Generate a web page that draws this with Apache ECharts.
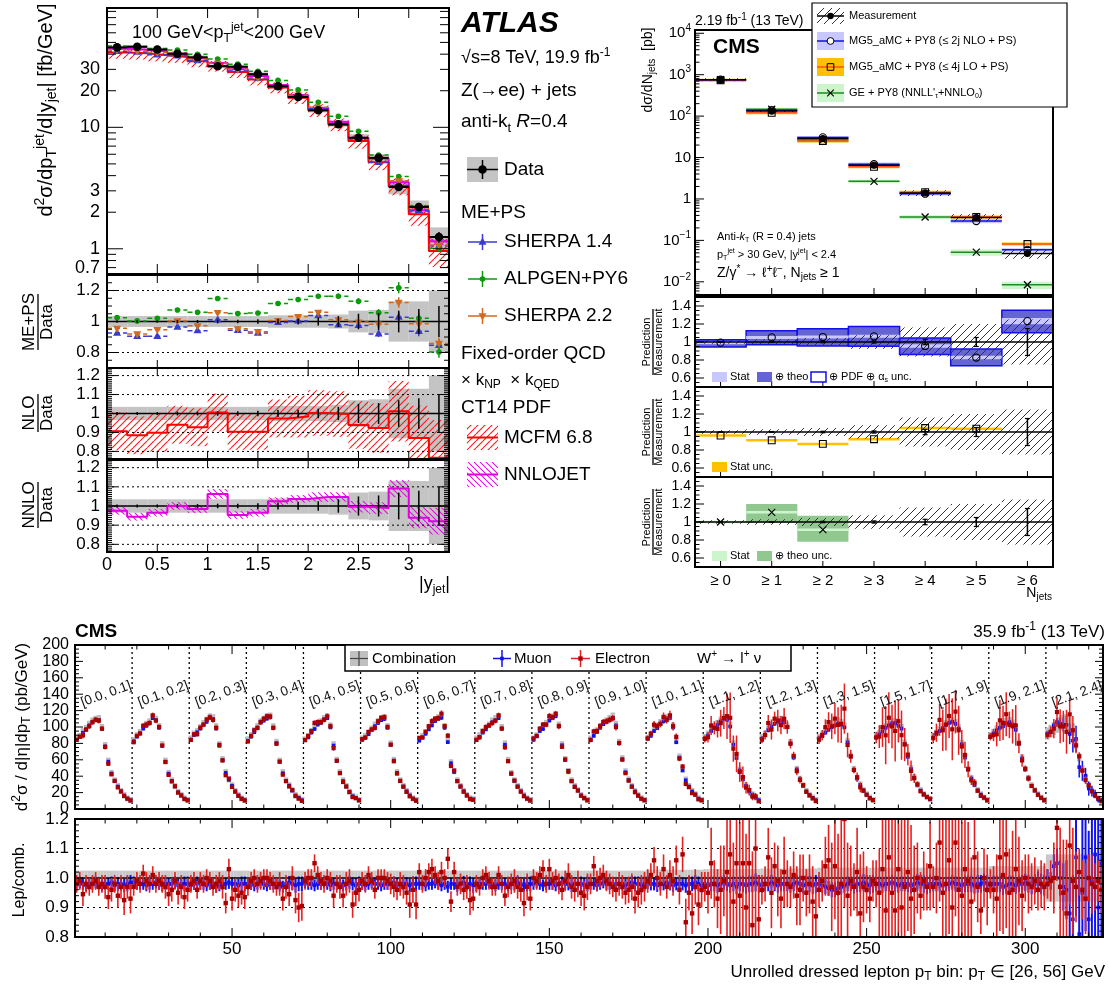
<!DOCTYPE html>
<html>
<head>
<meta charset="utf-8">
<script src="https://cdn.jsdelivr.net/npm/echarts@6.0.0/dist/echarts.min.js"></script>
<style>html,body{margin:0;padding:0;background:#fff;}#chart{width:1109px;height:985px;}</style>
</head>
<body>
<div id="chart"></div>
<script>
/* ============================ DATA ============================ */
// ---- ATLAS Z(->ee)+jets, 100 < pT(jet) < 200 GeV, vs |y_jet| ----
const atlasEdges = [0,0.2,0.4,0.6,0.8,1.0,1.2,1.4,1.6,1.8,2.0,2.2,2.4,2.6,2.8,3.0,3.2,3.4];
const atlasXsec  = [45.5,46,43.7,40.3,37.7,31.8,31.5,27.4,21.8,17.8,13.8,10.6,8.2,5.6,3.23,2.21,1.25];
const atlasSyst  = [0.035,0.035,0.035,0.035,0.035,0.035,0.035,0.035,0.04,0.04,0.04,0.045,0.07,0.075,0.13,0.13,0.2];
const atlasStat  = [0.008,0.008,0.008,0.01,0.01,0.012,0.012,0.015,0.018,0.02,0.025,0.035,0.05,0.055,0.07,0.08,0.1];
const sherpa14Ratio = [0.926,0.905,0.905,0.964,0.941,1.011,0.943,0.926,0.994,1.004,1.038,0.979,0.975,0.92,1.028,0.937,0.846];
const alpgenRatio   = [1.025,1.004,1.021,1.074,1.059,1.148,1.051,1.055,1.116,1.142,1.163,1.163,1.131,1.057,1.218,1.021,0.803];
const sherpa22Ratio = [0.956,0.92,0.947,1.004,0.972,1.057,0.953,0.934,1.006,1.032,1.059,1.011,0.996,0.983,1.123,0.985,0.858];
const mcStatUnc     = [0.006,0.006,0.006,0.006,0.007,0.008,0.008,0.009,0.01,0.011,0.013,0.015,0.018,0.022,0.03,0.035,0.045];
const mcfmRatio = [0.906,0.885,0.899,0.941,0.928,1.005,0.904,0.904,0.974,0.984,1.002,0.997,0.939,0.923,1.012,0.871,0.766];
const mcfmUnc   = [0.1,0.1,0.1,0.1,0.1,0.1,0.095,0.095,0.1,0.11,0.12,0.12,0.125,0.13,0.16,0.17,0.2];
const nnlojetRatio = [0.975,0.944,0.965,1.0,0.984,1.063,0.953,0.965,1.025,1.037,1.047,1.047,0.996,0.989,1.091,0.939,0.921];
const nnlojetUnc   = [0.02,0.02,0.02,0.02,0.02,0.025,0.02,0.02,0.02,0.02,0.025,0.025,0.03,0.03,0.045,0.055,0.07];
const atlasMainLabels = [0.7,1,2,3,10,20,30];
const atlasMainMajor  = [1,10];
const atlasMainMinor  = [0.7,0.8,0.9,2,3,4,5,6,7,8,9,20,30,40,50,60,70,80,90];
const atlasXLabels    = [0,0.5,1,1.5,2,2.5,3];
const atlasMepsLabels = [0.8,1,1.2];
const atlasFoLabels   = [0.8,0.9,1,1.1,1.2];

// ---- CMS 13 TeV Z+jets, inclusive jet multiplicity ----
const njetLabels = ['≥ 0','≥ 1','≥ 2','≥ 3','≥ 4','≥ 5','≥ 6'];
const njetPos    = [0,1,2,3,4,5,6];
const measXsec   = [760,132,29,6.5,1.4,0.355,0.048];
const measSyst   = [0.02,0.03,0.045,0.075,0.16,0.2,0.25];
const measStat   = [0.003,0.005,0.008,0.012,0.03,0.05,0.15];
const nloRatio   = [0.993,1.051,1.055,1.063,0.956,0.827,1.232];
const nloTheoLo  = [0.945,0.97,0.956,0.952,0.86,0.735,1.103];
const nloTheoHi  = [1.026,1.125,1.147,1.173,1.044,0.923,1.353];
const nloStat    = [0.008,0.01,0.012,0.015,0.02,0.02,0.035];
const loRatio    = [0.96,0.908,0.868,0.92,1.044,1.037,1.7];
const loStat     = [0.004,0.005,0.006,0.008,0.01,0.012,0.03];
const geRatio    = [1.0,1.107,0.915,0.41,0.262,0.146,0.177];
const geTheoLo   = [0.99,0.99,0.78,0.37,0.23,0.12,0.14];
const geTheoHi   = [1.01,1.2,1.07,0.45,0.29,0.17,0.21];
const geStat     = [0.005,0.01,0.01,0.01,0.01,0.01,0.01];
const cmsLogLabels = [0.01,0.1,1,10,100,1000,10000];
const cmsRatioLabels = [0.6,0.8,1,1.2,1.4];

// ---- CMS 35.9 fb-1 W+ -> l+ nu, unrolled (|eta|, pT) bins ----
const etaLabels = ['[0.0, 0.1]','[0.1, 0.2]','[0.2, 0.3]','[0.3, 0.4]','[0.4, 0.5]','[0.5, 0.6]','[0.6, 0.7]','[0.7, 0.8]','[0.8, 0.9]','[0.9, 1.0]','[1.0, 1.1]','[1.1, 1.2]','[1.2, 1.3]','[1.3, 1.5]','[1.5, 1.7]','[1.7, 1.9]','[1.9, 2.1]','[2.1, 2.4]'];
const combRows = [
 [86,89,95,99,104,108,110,111,100,78,59,44,35,28,22,17,13,11],
 [84,90,94,100,104,107,113,110,101,79,59,44,35,28,21,17,13,11],
 [86,92,95,100,105,109,113,112,101,79,61,45,36,29,22,17,13,11],
 [85,90,96,101,107,110,113,114,101,82,59,45,35,29,23,17,14,11],
 [85,89,95,100,105,107,111,113,102,79,60,45,35,28,21,16,14,11],
 [86,89,93,98,103,107,111,112,101,80,60,45,35,28,22,17,13,11],
 [85,89,94,99,104,109,112,114,101,84,57,46,35,28,22,17,13,12],
 [86,90,95,99,103,108,111,113,100,80,60,44,35,28,22,17,13,11],
 [86,90,97,100,105,110,113,116,103,79,61,46,35,28,23,17,14,11],
 [86,91,96,101,105,108,111,114,104,82,62,46,36,28,22,17,13,11],
 [87,91,97,101,106,109,112,113,102,83,64,48,36,28,22,18,13,11],
 [88,92,97,101,105,109,112,111,103,80,64,48,37,29,22,18,14,11],
 [88,92,98,102,106,109,110,108,102,82,64,49,37,29,22,17,14,11],
 [88,91,96,100,104,106,108,106,102,83,65,49,38,30,23,18,14,11],
 [89,93,97,101,104,106,107,104,100,81,65,50,39,30,23,18,15,12],
 [89,93,97,101,105,107,108,106,100,81,64,49,38,30,23,18,14,11],
 [90,94,98,101,104,107,108,105,99,81,63,49,38,29,23,18,14,11],
 [92,95,98,101,104,106,107,104,97,80,63,49,38,29,22,17,13,10]
];
const combUncEta = [0.025,0.025,0.025,0.025,0.025,0.025,0.025,0.025,0.025,0.025,0.028,0.03,0.032,0.035,0.035,0.035,0.04,0.08];
const muRatioRows = [
 [0.98,0.985,0.98,0.975,0.98,0.98,0.985,0.98,0.975,0.98,0.98,0.985,0.975,0.98,0.98,0.975,0.98,0.985],
 [0.985,0.98,0.98,0.98,0.975,0.98,0.98,0.985,0.98,0.975,0.98,0.98,0.98,0.985,0.975,0.98,0.98,0.98],
 [0.975,0.98,0.985,0.98,0.98,0.975,0.98,0.98,0.97,0.975,0.98,0.98,0.985,0.98,0.98,0.975,0.98,0.98],
 [0.98,0.98,0.975,0.98,0.985,0.98,0.975,0.98,0.98,0.98,0.975,0.97,0.98,0.985,0.98,0.975,0.98,0.98],
 [0.985,0.98,0.98,0.975,0.98,0.98,0.985,0.98,0.975,0.98,0.98,0.98,0.975,0.98,0.985,0.98,0.975,0.98],
 [0.98,0.975,0.98,0.985,0.98,0.98,0.975,0.98,0.98,0.98,0.985,0.98,0.975,0.98,0.98,0.975,0.98,0.98],
 [0.98,0.98,0.975,0.98,0.98,0.985,0.98,0.975,0.98,0.97,0.98,0.98,0.975,0.98,0.985,0.98,0.98,0.975],
 [0.975,0.98,0.98,0.98,0.985,0.98,0.975,0.98,0.98,0.98,0.975,0.98,0.98,0.985,0.98,0.975,0.98,0.98],
 [0.98,0.985,0.98,0.975,0.98,0.98,0.98,0.975,0.98,0.985,0.98,0.98,0.975,0.98,0.98,0.98,0.975,0.98],
 [0.98,0.98,0.975,0.98,0.985,0.98,0.98,0.975,0.98,0.98,0.98,0.975,0.98,0.985,0.98,0.98,0.975,0.98],
 [0.985,0.98,0.98,0.975,0.98,0.98,0.985,0.98,0.975,0.98,0.98,0.98,0.975,0.98,0.98,0.985,0.98,0.975],
 [0.98,0.975,0.98,0.98,0.975,0.98,0.985,0.98,0.975,0.98,0.97,0.98,0.98,0.975,0.98,0.98,0.985,0.98],
 [0.975,0.98,0.98,0.985,0.98,0.975,0.98,0.98,0.98,0.975,0.98,0.985,0.98,0.975,0.98,0.98,0.975,0.98],
 [0.98,0.975,0.97,0.965,0.96,0.96,0.965,0.97,0.975,0.98,0.98,0.975,0.98,0.98,0.985,0.98,0.975,0.98],
 [0.98,0.98,0.975,0.98,0.98,0.985,0.98,0.975,0.98,0.98,0.98,0.975,0.98,0.985,0.98,0.98,0.975,0.98],
 [0.98,0.98,0.98,0.975,0.98,0.98,0.985,0.98,0.98,0.975,0.98,0.98,0.98,0.975,0.98,0.98,0.985,0.98],
 [0.975,0.98,0.98,0.98,0.97,0.975,0.98,0.98,0.975,0.98,0.98,0.985,0.98,0.975,0.98,0.99,0.98,0.975],
 [1.0,0.99,1.04,1.05,1.0,0.97,0.96,0.88,0.86,1.07,0.81,0.95,1.07,0.86,0.99,1.08,0.9,1.05]
];
const muErrRows = [
 [0.02,0.02,0.02,0.02,0.02,0.02,0.02,0.02,0.02,0.02,0.02,0.02,0.02,0.022,0.022,0.022,0.025,0.025],
 [0.02,0.02,0.02,0.02,0.02,0.02,0.02,0.02,0.02,0.02,0.02,0.02,0.02,0.022,0.022,0.022,0.025,0.025],
 [0.02,0.02,0.02,0.02,0.02,0.02,0.02,0.02,0.02,0.02,0.02,0.02,0.022,0.022,0.022,0.022,0.025,0.025],
 [0.02,0.02,0.02,0.02,0.02,0.02,0.02,0.02,0.02,0.02,0.02,0.02,0.022,0.022,0.022,0.025,0.025,0.025],
 [0.02,0.02,0.02,0.02,0.02,0.02,0.02,0.02,0.02,0.02,0.02,0.02,0.02,0.022,0.022,0.022,0.025,0.025],
 [0.02,0.02,0.02,0.02,0.02,0.02,0.02,0.02,0.02,0.02,0.02,0.02,0.022,0.022,0.022,0.022,0.025,0.025],
 [0.02,0.02,0.02,0.02,0.02,0.02,0.02,0.02,0.02,0.02,0.02,0.02,0.022,0.022,0.022,0.022,0.025,0.025],
 [0.02,0.02,0.02,0.02,0.02,0.02,0.02,0.02,0.02,0.02,0.02,0.02,0.022,0.022,0.022,0.022,0.025,0.025],
 [0.02,0.02,0.02,0.02,0.02,0.02,0.02,0.02,0.02,0.02,0.02,0.022,0.022,0.022,0.022,0.025,0.025,0.025],
 [0.02,0.02,0.02,0.02,0.02,0.02,0.02,0.02,0.02,0.02,0.022,0.022,0.022,0.022,0.025,0.025,0.025,0.025],
 [0.022,0.022,0.022,0.022,0.022,0.022,0.022,0.022,0.022,0.022,0.022,0.022,0.025,0.025,0.025,0.025,0.025,0.025],
 [0.025,0.025,0.025,0.025,0.025,0.025,0.025,0.025,0.025,0.025,0.025,0.025,0.028,0.028,0.028,0.028,0.03,0.03],
 [0.025,0.025,0.025,0.025,0.025,0.025,0.025,0.025,0.025,0.025,0.025,0.025,0.028,0.028,0.028,0.028,0.03,0.03],
 [0.025,0.025,0.025,0.025,0.025,0.025,0.025,0.025,0.025,0.025,0.025,0.028,0.028,0.028,0.028,0.03,0.03,0.03],
 [0.025,0.025,0.025,0.025,0.025,0.025,0.025,0.025,0.025,0.025,0.028,0.028,0.028,0.028,0.03,0.03,0.03,0.03],
 [0.025,0.025,0.025,0.025,0.025,0.025,0.025,0.025,0.025,0.025,0.028,0.028,0.028,0.028,0.03,0.03,0.03,0.03],
 [0.028,0.028,0.028,0.028,0.028,0.028,0.028,0.028,0.028,0.028,0.03,0.03,0.03,0.03,0.032,0.032,0.035,0.035],
 [0.03,0.03,0.04,0.05,0.06,0.08,0.1,0.12,0.15,0.2,0.2,0.25,0.25,0.3,0.3,0.3,0.3,0.3]
];
const elRatioRows = [
 [0.98,0.99,0.945,0.98,0.97,0.98,0.99,0.97,0.98,0.97,0.935,0.96,0.98,0.94,0.97,0.925,0.97,0.93],
 [0.97,0.99,0.98,1.015,0.99,0.98,1.01,0.98,0.99,0.98,0.97,0.945,0.96,0.99,0.95,0.97,0.935,0.96],
 [0.98,0.99,0.96,0.99,0.98,1.0,0.99,0.97,0.98,0.99,0.97,0.915,1.03,0.93,0.96,0.94,0.95,0.935],
 [0.97,0.99,1.0,0.98,0.99,1.0,1.0,0.99,0.98,0.97,0.98,0.93,0.97,0.945,1.0,0.925,0.9,0.905],
 [0.99,1.0,1.0,1.05,1.01,0.99,0.98,1.0,0.99,0.94,0.98,0.97,0.94,0.98,0.99,0.91,0.95,0.96],
 [0.99,0.98,1.01,0.99,0.96,1.0,1.0,1.0,0.99,0.98,0.97,0.96,0.98,0.97,0.95,0.91,0.96,0.91],
 [1.02,0.98,1.0,1.02,1.03,1.01,0.99,1.02,1.0,1.065,0.92,1.02,0.97,0.98,0.96,0.97,0.925,0.93],
 [0.98,0.97,1.0,1.01,0.99,0.97,0.97,1.01,0.98,0.94,0.97,0.98,0.99,0.97,0.96,0.915,0.97,0.93],
 [1.0,0.99,1.01,1.03,0.98,1.03,0.99,1.0,0.98,0.96,0.99,1.01,0.97,0.96,0.98,0.95,0.94,0.97],
 [0.98,1.04,0.99,1.0,1.01,0.99,0.98,0.97,0.96,0.98,0.97,0.95,0.96,0.97,0.93,0.95,0.96,0.97],
 [0.99,1.01,1.06,1.0,0.98,1.03,0.97,1.01,0.99,1.06,0.96,1.08,0.85,0.95,0.88,0.97,0.91,0.96],
 [0.97,0.95,1.05,0.98,0.93,0.96,0.99,1.02,1.08,0.92,1.05,0.94,1.05,0.9,1.05,0.84,1.1,0.86],
 [0.96,0.98,1.07,0.95,1.04,0.99,0.93,1.02,0.98,0.97,1.01,0.94,0.96,1.0,0.95,0.98,0.92,0.87],
 [0.96,0.99,1.04,1.06,0.97,1.04,0.95,0.98,1.2,0.94,0.99,0.97,1.02,0.88,0.97,0.96,0.93,0.99],
 [0.98,0.95,1.03,0.89,1.07,0.95,0.89,1.03,0.9,0.97,1.02,0.93,0.96,1.0,0.94,0.99,0.97,1.04],
 [0.97,1.0,1.12,0.95,0.98,1.06,0.9,1.12,0.96,0.94,1.03,0.99,0.92,1.07,0.97,0.89,1.0,0.96],
 [0.98,0.96,0.93,1.07,1.01,1.08,0.95,0.96,1.03,0.99,0.94,1.0,0.98,0.97,0.99,0.96,0.98,0.97],
 [0.98,0.99,1.0,1.17,0.97,0.95,0.88,1.11,0.99,0.97,1.02,0.96,0.93,1.0,0.98,0.97,0.99,0.96]
];
const elErrRows = [
 [0.03,0.03,0.04,0.03,0.03,0.03,0.03,0.03,0.03,0.04,0.04,0.04,0.03,0.04,0.04,0.05,0.04,0.05],
 [0.03,0.03,0.03,0.03,0.03,0.03,0.03,0.03,0.03,0.03,0.04,0.04,0.04,0.03,0.04,0.04,0.04,0.04],
 [0.03,0.03,0.03,0.03,0.03,0.03,0.03,0.03,0.03,0.03,0.04,0.035,0.035,0.04,0.04,0.04,0.04,0.04],
 [0.03,0.03,0.03,0.03,0.03,0.03,0.03,0.03,0.03,0.03,0.04,0.04,0.04,0.04,0.04,0.045,0.05,0.05],
 [0.03,0.03,0.03,0.03,0.03,0.03,0.03,0.03,0.03,0.04,0.03,0.04,0.04,0.04,0.04,0.045,0.045,0.04],
 [0.03,0.03,0.03,0.03,0.03,0.03,0.03,0.03,0.03,0.035,0.035,0.035,0.04,0.04,0.04,0.045,0.045,0.05],
 [0.03,0.03,0.03,0.03,0.035,0.03,0.03,0.035,0.03,0.035,0.035,0.035,0.03,0.035,0.035,0.04,0.05,0.04],
 [0.03,0.03,0.03,0.03,0.03,0.03,0.03,0.03,0.03,0.035,0.035,0.035,0.04,0.04,0.04,0.045,0.045,0.04],
 [0.03,0.03,0.03,0.03,0.03,0.035,0.03,0.03,0.035,0.035,0.035,0.04,0.04,0.04,0.045,0.045,0.05,0.045],
 [0.035,0.035,0.035,0.035,0.035,0.035,0.035,0.035,0.04,0.04,0.04,0.04,0.045,0.045,0.05,0.05,0.05,0.05],
 [0.04,0.04,0.045,0.04,0.04,0.05,0.04,0.05,0.05,0.05,0.05,0.06,0.08,0.06,0.07,0.06,0.07,0.06],
 [0.05,0.07,0.12,0.08,0.1,0.15,0.12,0.25,0.3,0.2,0.35,0.25,0.35,0.25,0.3,0.25,0.3,0.15],
 [0.05,0.06,0.1,0.12,0.08,0.12,0.1,0.12,0.08,0.07,0.08,0.1,0.12,0.08,0.08,0.1,0.12,0.12],
 [0.06,0.07,0.1,0.12,0.15,0.18,0.2,0.22,0.3,0.18,0.12,0.08,0.15,0.2,0.12,0.08,0.08,0.07],
 [0.08,0.15,0.25,0.35,0.3,0.25,0.35,0.25,0.3,0.25,0.2,0.25,0.15,0.12,0.08,0.1,0.08,0.15],
 [0.07,0.12,0.2,0.25,0.3,0.25,0.35,0.25,0.3,0.25,0.25,0.2,0.15,0.15,0.12,0.08,0.1,0.12],
 [0.05,0.08,0.15,0.25,0.2,0.25,0.15,0.2,0.25,0.15,0.12,0.08,0.1,0.08,0.08,0.07,0.08,0.08],
 [0.05,0.07,0.12,0.18,0.2,0.18,0.25,0.2,0.18,0.12,0.08,0.1,0.12,0.08,0.1,0.08,0.07,0.08]
];
const unrolledXLabels = [50,100,150,200,250,300];

/* ============================ HELPERS ============================ */
const FONT = '"Liberation Sans", Arial, Helvetica, sans-serif';
const grids = [], xAxes = [], yAxes = [], series = [], graphic = [];

function axisOpt(gi, a, pos) {
  const o = {gridIndex: gi, type: a.type || 'value', position: pos, min: a.min, max: a.max,
    axisLine: {show: false}, axisTick: {show: false}, minorTick: {show: false},
    splitLine: {show: false}, splitArea: {show: false}, z: 30};
  if (a.type === 'log') o.logBase = 10;
  if (a.interval) o.interval = a.interval;
  o.axisLabel = a.label ? Object.assign({show: true, color: '#000', fontFamily: FONT, fontSize: 14,
    margin: 6, hideOverlap: false, showMinLabel: true, showMaxLabel: true}, a.label) : {show: false};
  return o;
}
function addPanel(l, t, w, h, xa, ya) {
  const gi = grids.length;
  grids.push({left: l, top: t, width: w, height: h, show: false, containLabel: false, outerBoundsMode: 'none'});
  xAxes.push(axisOpt(gi, xa, 'bottom'));
  yAxes.push(axisOpt(gi, ya, 'left'));
  return gi;
}
function addFrame(gi, o) {
  series.push({type: 'custom', xAxisIndex: gi, yAxisIndex: gi, silent: true, z: 40, clip: false,
    data: [[o.xRef, o.yRef]],
    renderItem(params, api) {
      const cs = params.coordSys, ch = [];
      const L = (x1, y1, x2, y2) => ch.push({type: 'line', shape: {x1, y1, x2, y2}, style: {stroke: '#000', lineWidth: 1}});
      const X0 = cs.x, X1 = cs.x + cs.width, Y0 = cs.y, Y1 = cs.y + cs.height;
      (o.y || []).forEach(([vals, len]) => vals.forEach(v => {
        const py = api.coord([o.xRef, v])[1];
        if (!(py >= Y0 - 0.5 && py <= Y1 + 0.5)) return;
        if (o.left !== false) L(X0, py, X0 + len, py);
        if (o.right) L(X1, py, X1 - len, py);
      }));
      (o.x || []).forEach(([vals, len]) => vals.forEach(v => {
        const px = api.coord([v, o.yRef])[0];
        if (!(px >= X0 - 0.5 && px <= X1 + 0.5)) return;
        if (o.bottom !== false) L(px, Y1, px, Y1 - len);
        if (o.top) L(px, Y0, px, Y0 + len);
      }));
      ch.push({type: 'rect', shape: {x: X0, y: Y0, width: cs.width, height: cs.height},
        style: {fill: 'none', stroke: '#000', lineWidth: o.bw || 2}});
      return {type: 'group', children: ch};
    }});
}
function addBands(gi, items, st, z) {
  series.push({type: 'custom', xAxisIndex: gi, yAxisIndex: gi, silent: true, z: z, clip: true, data: items,
    renderItem(params, api) {
      const a = api.coord([api.value(0), api.value(2)]), b = api.coord([api.value(1), api.value(3)]);
      let y = Math.min(a[1], b[1]), h = Math.abs(b[1] - a[1]);
      if (st.minH && h < st.minH) { y = (a[1] + b[1]) / 2 - st.minH / 2; h = st.minH; }
      return {type: 'rect', shape: {x: Math.min(a[0], b[0]), y: y, width: Math.abs(b[0] - a[0]), height: h},
        style: Object.assign({}, st.style)};
    }});
}
function marker(kind, cx, cy, r, fill, stroke, lw) {
  const st = {fill: fill, stroke: stroke, lineWidth: lw || 1};
  if (kind === 'circle') return [{type: 'circle', shape: {cx, cy, r}, style: st}];
  if (kind === 'triUp') return [{type: 'polygon', shape: {points: [[cx, cy - r * 1.2], [cx - r * 1.05, cy + r * 0.7], [cx + r * 1.05, cy + r * 0.7]]}, style: st}];
  if (kind === 'triDown') return [{type: 'polygon', shape: {points: [[cx, cy + r * 1.2], [cx - r * 1.05, cy - r * 0.7], [cx + r * 1.05, cy - r * 0.7]]}, style: st}];
  if (kind === 'square') return [{type: 'rect', shape: {x: cx - r, y: cy - r, width: 2 * r, height: 2 * r}, style: st}];
  if (kind === 'x') return [
    {type: 'line', shape: {x1: cx - r, y1: cy - r, x2: cx + r, y2: cy + r}, style: {stroke: stroke || fill, lineWidth: lw || 1}},
    {type: 'line', shape: {x1: cx - r, y1: cy + r, x2: cx + r, y2: cy - r}, style: {stroke: stroke || fill, lineWidth: lw || 1}}];
  return [];
}
function addPoints(gi, items, o) {
  series.push({type: 'custom', xAxisIndex: gi, yAxisIndex: gi, silent: true, z: o.z || 10, clip: o.clip !== false, data: items,
    renderItem(params, api) {
      const x = api.value(0), y = api.value(1), lo = api.value(2), hi = api.value(3), hw = api.value(4);
      const c = api.coord([x, y]), ch = [];
      if (o.hbar) {
        const a = api.coord([x - hw, y]), b = api.coord([x + hw, y]);
        ch.push({type: 'line', shape: {x1: a[0], y1: c[1], x2: b[0], y2: c[1]}, style: {stroke: o.hcolor || o.color, lineWidth: o.hbarW || 1.5, lineDash: o.dash || null}});
      }
      if (o.vbar) {
        const p1 = api.coord([x, lo]), p2 = api.coord([x, hi]);
        ch.push({type: 'line', shape: {x1: c[0], y1: p1[1], x2: c[0], y2: p2[1]}, style: {stroke: o.barColor || o.color, lineWidth: o.vbarW || 1.5}});
        if (o.cap) [p1, p2].forEach(p => ch.push({type: 'line', shape: {x1: c[0] - o.cap, y1: p[1], x2: c[0] + o.cap, y2: p[1]}, style: {stroke: o.barColor || o.color, lineWidth: 1.2}}));
      }
      if (o.marker) marker(o.marker, c[0], c[1], o.size || 4, o.mfill === undefined ? o.color : o.mfill, o.mstroke || null, o.mlw).forEach(m => ch.push(m));
      return {type: 'group', children: ch};
    }});
}
function addLine(gi, data, color, width, type, z, step) {
  series.push({type: 'line', xAxisIndex: gi, yAxisIndex: gi, data: data, symbol: 'none', showSymbol: false,
    step: step || false, silent: true, z: z, clip: true, animation: false,
    lineStyle: {color: color, width: width, type: type || 'solid'}});
}
function makeHatch(color, dir, s, lw) {
  const c = document.createElement('canvas'); c.width = s; c.height = s;
  const g = c.getContext('2d'); g.strokeStyle = color; g.lineWidth = lw; g.beginPath();
  for (let k = -1; k <= 1; k++) {
    if (dir > 0) { g.moveTo(k * s, s); g.lineTo(k * s + s, 0); }
    else { g.moveTo(k * s, 0); g.lineTo(k * s + s, s); }
  }
  g.stroke();
  return {image: c, repeat: 'repeat'};
}
function richFor(fs) {
  const s = Math.round(fs * 0.68);
  return {
    sup: {fontSize: s, lineHeight: s, verticalAlign: 'top', fontFamily: FONT},
    sub: {fontSize: s, lineHeight: s, verticalAlign: 'bottom', fontFamily: FONT},
    it: {fontSize: fs, fontStyle: 'italic', fontFamily: FONT}
  };
}
function gText(x, y, text, o) {
  o = o || {};
  const fs = o.size || 14;
  graphic.push({type: 'text', x: x, y: y, rotation: o.rot || 0, z: 100, silent: true, style: {
    text: text, fill: o.color || '#000', fontSize: fs, fontFamily: FONT, fontWeight: o.weight || 'normal',
    fontStyle: o.style || 'normal', textAlign: o.align || 'left', textVerticalAlign: o.va || 'middle',
    lineHeight: Math.round(fs * 1.3), rich: richFor(fs)}});
}
function gRect(x, y, w, h, fill, stroke, lw) {
  graphic.push({type: 'rect', z: 99, silent: true, shape: {x: x, y: y, width: w, height: h},
    style: {fill: fill || 'none', stroke: stroke || null, lineWidth: lw || 1}});
}
function gLine(x1, y1, x2, y2, stroke, lw, dash) {
  graphic.push({type: 'line', z: 101, silent: true, shape: {x1, y1, x2, y2}, style: {stroke: stroke, lineWidth: lw || 1, lineDash: dash || null}});
}
function gMarker(kind, cx, cy, r, fill, stroke, lw) {
  marker(kind, cx, cy, r, fill, stroke, lw).forEach(m => { m.z = 102; m.silent = true; graphic.push(m); });
}
const ratioFmt = v => { const r = Math.round(v * 100) / 100; return r === 1 ? '1' : String(r); };

/* ============================ ATLAS ============================ */
const aCtr = atlasXsec.map((_, i) => (atlasEdges[i] + atlasEdges[i + 1]) / 2);
const aHW  = atlasXsec.map((_, i) => (atlasEdges[i + 1] - atlasEdges[i]) / 2);
const atlasXTicks = [[[0.5, 1, 1.5, 2, 2.5, 3], 10]];
const hatchRed = () => makeHatch('#ff1a1a', 1, 7, 1.1);
const hatchMag = () => makeHatch('#e010e0', -1, 6, 1.1);
const stepData = (vals) => vals.map((v, i) => [atlasEdges[i], v]).concat([[atlasEdges[atlasEdges.length - 1], vals[vals.length - 1]]]);
const C_S14 = '#3a3ad0', C_ALP = '#0a9a0a', C_S22 = '#d2691e', C_MCFM = '#ff0000', C_NNLO = '#e000e0';

const gA0 = addPanel(107, 8, 342, 266, {min: 0, max: 3.4},
  {type: 'log', min: 0.62, max: 96, label: {customValues: atlasMainLabels, fontSize: 18, margin: 7, formatter: v => String(+(+v).toPrecision(3))}});
addFrame(gA0, {xRef: 0.1, yRef: 1, right: true, top: true,
  y: [[atlasMainMajor, 16], [atlasMainMinor, 9]], x: atlasXTicks});
addBands(gA0, atlasXsec.map((v, i) => [atlasEdges[i], atlasEdges[i + 1], v * (1 - atlasSyst[i]), v * (1 + atlasSyst[i])]), {style: {fill: '#c4c4c4'}}, 2);
addBands(gA0, atlasXsec.map((v, i) => [atlasEdges[i], atlasEdges[i + 1], v * (mcfmRatio[i] - mcfmUnc[i]), v * (mcfmRatio[i] + mcfmUnc[i])]), {style: {fill: hatchRed()}}, 3);
addBands(gA0, atlasXsec.map((v, i) => [atlasEdges[i], atlasEdges[i + 1], v * (nnlojetRatio[i] - nnlojetUnc[i]), v * (nnlojetRatio[i] + nnlojetUnc[i])]), {style: {fill: hatchMag()}}, 3);
addLine(gA0, stepData(atlasXsec.map((v, i) => v * nnlojetRatio[i])), C_NNLO, 2, 'solid', 4, 'end');
addLine(gA0, stepData(atlasXsec.map((v, i) => v * mcfmRatio[i])), C_MCFM, 2, 'solid', 5, 'end');
function mcItems(ratio, scaleArr) {
  return ratio.map((r, i) => { const s = scaleArr ? scaleArr[i] : 1; return [aCtr[i], s * r, s * r * (1 - mcStatUnc[i]), s * r * (1 + mcStatUnc[i]), aHW[i]]; });
}
addPoints(gA0, mcItems(sherpa14Ratio, atlasXsec), {color: C_S14, hbar: true, dash: [5, 3], vbar: true, marker: 'triUp', size: 3.8, z: 6});
addPoints(gA0, mcItems(alpgenRatio, atlasXsec), {color: C_ALP, hbar: true, dash: [5, 3], vbar: true, marker: 'circle', size: 2.8, z: 6});
addPoints(gA0, mcItems(sherpa22Ratio, atlasXsec), {color: C_S22, hbar: true, dash: [5, 3], vbar: true, marker: 'triDown', size: 3.8, z: 6});
addPoints(gA0, atlasXsec.map((v, i) => [aCtr[i], v, v * (1 - atlasStat[i]), v * (1 + atlasStat[i]), aHW[i]]),
  {color: '#000', hbar: true, hbarW: 2, vbar: true, marker: 'circle', size: 4.3, z: 8});

function atlasRatioPanel(top, h, yr, labels, majors, minors, xLabels) {
  const gi = addPanel(107, top, 342, h,
    xLabels ? {min: 0, max: 3.4, label: {customValues: atlasXLabels, fontSize: 18, margin: 4, formatter: v => String(v)}} : {min: 0, max: 3.4},
    {min: yr[0], max: yr[1], label: {customValues: labels, fontSize: 17, margin: 7, formatter: ratioFmt}});
  addFrame(gi, {xRef: 0.1, yRef: 1, right: true, top: true, y: [[majors, 10], [minors, 5]], x: [[[0.5, 1, 1.5, 2, 2.5, 3], 8]]});
  addBands(gi, atlasSyst.map((u, i) => [atlasEdges[i], atlasEdges[i + 1], 1 - u, 1 + u]), {style: {fill: '#c4c4c4'}}, 2);
  return gi;
}
function dataStatBars(gi) {
  addPoints(gi, atlasStat.map((s, i) => [aCtr[i], 1, 1 - s, 1 + s, aHW[i]]), {color: '#000', vbar: true, vbarW: 1.5, z: 9});
}
const mepsMinor = [0.75, 0.85, 0.9, 0.95, 1.05, 1.1, 1.15, 1.25];
const gA1 = atlasRatioPanel(275, 93, [0.7, 1.3], atlasMepsLabels, atlasMepsLabels, mepsMinor, false);
[0.8, 1.2].forEach(v => addLine(gA1, [[0, v], [3.4, v]], '#000', 1, [2, 3], 3));
addLine(gA1, [[0, 1], [3.4, 1]], '#000', 1.5, 'solid', 4);
addPoints(gA1, mcItems(sherpa14Ratio), {color: C_S14, hbar: true, dash: [5, 3], vbar: true, marker: 'triUp', size: 3.8, z: 6});
addPoints(gA1, mcItems(sherpa22Ratio), {color: C_S22, hbar: true, dash: [5, 3], vbar: true, marker: 'triDown', size: 3.8, z: 6});
addPoints(gA1, mcItems(alpgenRatio), {color: C_ALP, hbar: true, dash: [5, 3], vbar: true, marker: 'circle', size: 2.8, z: 6});
dataStatBars(gA1);
const foMinor = [];
for (let k = 77; k <= 123; k++) if (k % 10 !== 0) foMinor.push(k / 100);
function foPanel(top, h, ratio, unc, color, hatch, xLabels) {
  const gi = atlasRatioPanel(top, h, [0.76, 1.24], atlasFoLabels, atlasFoLabels, foMinor, xLabels);
  addBands(gi, ratio.map((r, i) => [atlasEdges[i], atlasEdges[i + 1], r - unc[i], r + unc[i]]), {style: {fill: hatch}}, 3);
  [0.8, 0.9, 1.1, 1.2].forEach(v => addLine(gi, [[0, v], [3.4, v]], '#000', 1, [2, 3], 4));
  addLine(gi, [[0, 1], [3.4, 1]], '#000', 1.5, 'solid', 4);
  addLine(gi, stepData(ratio), color, 2, 'solid', 6, 'end');
  dataStatBars(gi);
  return gi;
}
const gA2 = foPanel(368, 91, mcfmRatio, mcfmUnc, C_MCFM, hatchRed(), false);
const gA3 = foPanel(460, 92, nnlojetRatio, nnlojetUnc, C_NNLO, hatchMag(), true);

gText(46, 110, 'd{sup|2}σ/dp{sub|T}{sup|jet}/d|y{sub|jet}| [fb/GeV]', {size: 20, rot: Math.PI / 2, align: 'center'});
function fracTitle(cx, cy, num, den, fs, gap, lineLen) {
  gText(cx - gap, cy, num, {size: fs, rot: Math.PI / 2, align: 'center'});
  gText(cx + gap, cy, den, {size: fs, rot: Math.PI / 2, align: 'center'});
  gLine(cx, cy - lineLen / 2, cx, cy + lineLen / 2, '#000', 1.3);
}
fracTitle(38, 322, 'ME+PS', 'Data', 17, 9, 56);
fracTitle(38, 413, 'NLO', 'Data', 17, 9, 38);
fracTitle(38, 505, 'NNLO', 'Data', 17, 9, 46);
gText(450, 584, '|y{sub|jet}|', {size: 18, align: 'right'});
gText(132, 33, '100 GeV<p{sub|T}{sup|jet}<200 GeV', {size: 18});
gText(461, 24, 'ATLAS', {size: 30, weight: 'bold', style: 'italic'});
gText(461, 58, '√s=8 TeV, 19.9 fb{sup|-1}', {size: 18});
gText(461, 91, 'Z(→ee) + jets', {size: 19});
gText(461, 122, 'anti-k{sub|t} {it|R}=0.4', {size: 19});
gRect(467, 157, 31, 25, '#c4c4c4');
gLine(467, 169.5, 498, 169.5, '#000', 1.5); gLine(482.5, 160, 482.5, 179, '#000', 1.5);
gMarker('circle', 482.5, 169.5, 4.3, '#000');
gText(504, 170, 'Data', {size: 19});
gText(461, 213, 'ME+PS', {size: 19});
[[242, C_S14, 'triUp', 3.8, 'SHERPA 1.4'], [279, C_ALP, 'circle', 2.8, 'ALPGEN+PY6'], [316, C_S22, 'triDown', 3.8, 'SHERPA 2.2']].forEach(e => {
  gLine(468, e[0], 497, e[0], e[1], 1.5); gLine(482.5, e[0] - 8, 482.5, e[0] + 8, e[1], 1.5);
  gMarker(e[2], 482.5, e[0], e[3], e[1]);
  gText(504, e[0], e[4], {size: 19});
});
gText(461, 354, 'Fixed-order QCD', {size: 19});
gText(461, 380, '× k{sub|NP}  × k{sub|QED}', {size: 17});
gText(461, 408, 'CT14 PDF', {size: 19});
gRect(467, 425, 31, 25, hatchRed()); gLine(467, 437.5, 498, 437.5, C_MCFM, 2);
gText(504, 438, 'MCFM 6.8', {size: 19});
gRect(467, 462, 31, 25, hatchMag()); gLine(467, 474.5, 498, 474.5, C_NNLO, 2);
gText(504, 475, 'NNLOJET', {size: 19});

/* ============================ CMS N_jets ============================ */
const C_NLO = '#1010e8', C_NLO_BAND = '#c8c8ff', C_NLO_DARK = '#6464d2';
const C_LO = '#ff5020', C_LO_BAND = '#ffc000';
const C_GE = '#208a20', C_GE_BAND = '#ccf5cc', C_GE_DARK = '#90c890';
const hatchMeas = () => makeHatch('#333333', 1, 8, 1);
const cmsLogMinor = [];
[-3, -2, -1, 0, 1, 2, 3, 4].forEach(e => { for (let m = 2; m <= 9; m++) cmsLogMinor.push(+(m * Math.pow(10, e)).toPrecision(3)); });
const logFmt = v => { const e = Math.round(Math.log10(v)); if (e === 0) return '1'; if (e === 1) return '10'; return '10{s|' + (e < 0 ? '−' : '') + Math.abs(e) + '}'; };

const gC0 = addPanel(695, 30, 358, 265, {min: -0.5, max: 6.5},
  {type: 'log', min: 0.0048, max: 12000, label: {customValues: cmsLogLabels, fontSize: 15, margin: 4, lineHeight: 20, formatter: logFmt,
    rich: {s: {fontSize: 10, lineHeight: 10, verticalAlign: 'top', fontFamily: FONT, color: '#000'}}}});
addFrame(gC0, {xRef: 0, yRef: 1, y: [[cmsLogLabels, 9], [cmsLogMinor, 4.5]], x: [[njetPos, 7]]});
addBands(gC0, measXsec.map((d, i) => [njetPos[i] - 0.5, njetPos[i] + 0.5, d * geTheoLo[i], d * geTheoHi[i]]), {style: {fill: C_GE_BAND}}, 2);
addBands(gC0, measXsec.map((d, i) => [njetPos[i] - 0.5, njetPos[i] + 0.5, d * (loRatio[i] - loStat[i]), d * (loRatio[i] + loStat[i])]), {minH: 3, style: {fill: C_LO_BAND}}, 3);
addBands(gC0, measXsec.map((d, i) => [njetPos[i] - 0.5, njetPos[i] + 0.5, d * nloTheoLo[i], d * nloTheoHi[i]]), {style: {fill: C_NLO_BAND}}, 4);
addBands(gC0, measXsec.map((d, i) => [njetPos[i] - 0.5, njetPos[i] + 0.5, d * (1 - measSyst[i]), d * (1 + measSyst[i])]), {minH: 3, style: {fill: hatchMeas()}}, 5);
addPoints(gC0, measXsec.map((d, i) => [njetPos[i], d * geRatio[i], 0, 0, 0.5]), {color: C_GE, hbar: true, hbarW: 1.5, z: 6});
addPoints(gC0, measXsec.map((d, i) => [njetPos[i], d * loRatio[i], 0, 0, 0.5]), {color: C_LO, hbar: true, hbarW: 1.5, z: 6});
addPoints(gC0, measXsec.map((d, i) => [njetPos[i], d * nloRatio[i], 0, 0, 0.5]), {color: C_NLO, hbar: true, hbarW: 1.5, z: 6});
addPoints(gC0, measXsec.map((d, i) => [njetPos[i], d, d * (1 - measStat[i]), d * (1 + measStat[i]), 0.5]), {color: '#000', hbar: true, hbarW: 1.5, vbar: true, marker: 'circle', size: 3.5, z: 8});
addPoints(gC0, measXsec.map((d, i) => [njetPos[i], d * geRatio[i], 0, 0, 0]), {color: '#000', marker: 'x', size: 3.5, mstroke: '#000', mlw: 1.2, z: 9});
addPoints(gC0, measXsec.map((d, i) => [njetPos[i], d * nloRatio[i], 0, 0, 0]), {color: '#000', marker: 'circle', size: 3.6, mfill: 'rgba(0,0,0,0)', mstroke: '#000', mlw: 1.1, z: 9});
addPoints(gC0, measXsec.map((d, i) => [njetPos[i], d * loRatio[i], 0, 0, 0]), {color: '#000', marker: 'square', size: 3.4, mfill: 'rgba(0,0,0,0)', mstroke: '#000', mlw: 1.1, z: 9});

const cmsRatioMinor = [];
for (let k = 55; k <= 145; k += 5) if (k % 20 !== 0) cmsRatioMinor.push(k / 100);
function cmsRatioPanel(top, xLabels) {
  const gi = addPanel(695, top, 358, 90,
    xLabels ? {min: -0.5, max: 6.5, label: {customValues: njetPos, fontSize: 15, margin: 6, formatter: v => njetLabels[Math.round(v)]}} : {min: -0.5, max: 6.5},
    {min: 0.5, max: 1.5, label: {customValues: cmsRatioLabels, fontSize: 14, margin: 4, formatter: ratioFmt}});
  addFrame(gi, {xRef: 0, yRef: 1, y: [[cmsRatioLabels, 9], [cmsRatioMinor, 4.5]], x: [[njetPos, 6]]});
  addBands(gi, measSyst.map((u, i) => [njetPos[i] - 0.5, njetPos[i] + 0.5, 1 - u, 1 + u]), {style: {fill: hatchMeas()}}, 6);
  addLine(gi, [[-0.5, 1], [6.5, 1]], '#000', 1.5, 'solid', 7);
  addPoints(gi, measStat.map((s, i) => [njetPos[i], 1, 1 - s, 1 + s, 0]), {color: '#000', vbar: true, vbarW: 1.5, cap: 2.5, z: 9});
  return gi;
}
const gC1 = cmsRatioPanel(297, false);
addBands(gC1, nloRatio.map((r, i) => [njetPos[i] - 0.5, njetPos[i] + 0.5, nloTheoLo[i], nloTheoHi[i]]), {style: {fill: C_NLO_DARK, stroke: C_NLO, lineWidth: 1.5}}, 3);
addBands(gC1, nloRatio.map((r, i) => [njetPos[i] - 0.5, njetPos[i] + 0.5, r - nloStat[i], r + nloStat[i]]), {minH: 3, style: {fill: C_NLO_BAND}}, 4);
addPoints(gC1, nloRatio.map((r, i) => [njetPos[i], r, 0, 0, 0]), {color: '#000', marker: 'circle', size: 3.6, mfill: 'rgba(0,0,0,0)', mstroke: '#000', mlw: 1.1, z: 10});
const gC2 = cmsRatioPanel(387, false);
addBands(gC2, loRatio.map((r, i) => [njetPos[i] - 0.5, njetPos[i] + 0.5, r - loStat[i], r + loStat[i]]), {minH: 2.5, style: {fill: C_LO_BAND}}, 3);
addPoints(gC2, loRatio.map((r, i) => [njetPos[i], r, 0, 0, 0]), {color: '#000', marker: 'square', size: 3.4, mfill: 'rgba(0,0,0,0)', mstroke: '#000', mlw: 1.1, z: 10});
const gC3 = cmsRatioPanel(477, true);
addBands(gC3, geRatio.map((r, i) => [njetPos[i] - 0.5, njetPos[i] + 0.5, geTheoLo[i], geTheoHi[i]]), {style: {fill: C_GE_DARK}}, 3);
addBands(gC3, geRatio.map((r, i) => [njetPos[i] - 0.5, njetPos[i] + 0.5, r - geStat[i], r + geStat[i]]), {minH: 2.5, style: {fill: C_GE_BAND}}, 4);
addPoints(gC3, geRatio.map((r, i) => [njetPos[i], r, 0, 0, 0]), {color: '#000', marker: 'x', size: 3.5, mstroke: '#000', mlw: 1.2, z: 10});

gText(695, 21, '2.19 fb{sup|-1} (13 TeV)', {size: 14});
gText(713, 47, 'CMS', {size: 21, weight: 'bold'});
gText(648, 70, 'dσ/dN{sub|jets}  [pb]', {size: 14, rot: Math.PI / 2, align: 'center'});
gText(717, 237, 'Anti-{it|k}{sub|T} (R = 0.4) jets', {size: 11});
gText(717, 255, 'p{sub|T}{sup|jet} > 30 GeV, |y{sup|jet}| < 2.4', {size: 11});
gText(717, 273, 'Z/γ{sup|*} → ℓ{sup|+}ℓ{sup|−}, N{sub|jets} ≥ 1', {size: 14});
[342, 432, 522].forEach(cy => fracTitle(653, cy, 'Prediction', 'Measurement', 11, 6, 66));
gText(1052, 593, 'N{sub|jets}', {size: 14, align: 'right'});
gRect(812, 3, 255, 104, '#fff', '#000', 1.2);
gRect(817, 8, 27, 16, hatchMeas()); gLine(817, 16, 844, 16, '#000', 1.5); gMarker('circle', 830.5, 16, 3.2, '#000');
gText(849, 16, 'Measurement', {size: 11});
gRect(817, 32, 27, 18, C_NLO_BAND); gLine(817, 41, 844, 41, C_NLO, 1.5); gMarker('circle', 830.5, 41, 3.4, '#fff', '#000', 1);
gText(849, 41, 'MG5_aMC + PY8 (≤ 2j NLO + PS)', {size: 11});
gRect(817, 58, 27, 18, C_LO_BAND); gLine(817, 67, 844, 67, C_LO, 1.5); gMarker('square', 830.5, 67, 3.3, 'rgba(0,0,0,0)', '#000', 1);
gText(849, 67, 'MG5_aMC + PY8 (≤ 4j LO + PS)', {size: 11});
gRect(817, 84, 27, 18, C_GE_BAND); gLine(817, 93, 844, 93, C_GE, 1.5); gMarker('x', 830.5, 93, 3.3, '#000', '#000', 1.1);
gText(849, 93, "GE + PY8 (NNLL'{sub|τ}+NNLO{sub|0})", {size: 11});
gRect(712, 372, 15, 10, C_NLO_BAND); gText(730, 377, 'Stat', {size: 11});
gRect(757, 372, 15, 10, C_NLO_DARK); gText(775, 377, '⊕ theo', {size: 11});
gRect(811, 372, 15, 10, '#fff', C_NLO, 1.5); gText(829, 377, '⊕ PDF ⊕ α{sub|s} unc.', {size: 11});
gRect(712, 462, 15, 10, C_LO_BAND); gText(730, 467, 'Stat unc.', {size: 11});
gRect(712, 551, 15, 10, C_GE_BAND); gText(730, 556, 'Stat', {size: 11});
gRect(757, 551, 15, 10, C_GE_DARK); gText(775, 556, '⊕ theo unc.', {size: 11});

/* ============================ CMS W+ unrolled ============================ */
const combVals = [].concat(...combRows);
const muRatio  = [].concat(...muRatioRows);
const muErr    = [].concat(...muErrRows);
const elRatio  = [].concat(...elRatioRows);
const elErr    = [].concat(...elErrRows);
const nPt = combRows[0].length;
const binX = combVals.map((_, i) => i + 1);
const etaEdgesX = etaLabels.slice(0, -1).map((_, k) => (k + 1) * nPt + 0.5);
const unrolledMinor = [];
for (let v = 10; v <= 320; v += 10) if (v % 50 !== 0) unrolledMinor.push(v);
const mainYMinor = [], ratioYMinor = [];
for (let v = 5; v < 200; v += 5) if (v % 20 !== 0) mainYMinor.push(v);
for (let k = 82; k < 120; k += 2) if (k % 10 !== 0) ratioYMinor.push(k / 100);
const C_MU = '#1010f0', C_EL_BAR = '#e52020', C_EL = '#a80000';

const gB0 = addPanel(75, 645, 1028, 164, {min: 0.5, max: 324.5},
  {min: 0, max: 200, interval: 20, label: {fontSize: 16, lineHeight: 12, margin: 6, interval: 0}});
addFrame(gB0, {xRef: 1, yRef: 0, right: true, top: true,
  y: [[[0, 20, 40, 60, 80, 100, 120, 140, 160, 180, 200], 8], [mainYMinor, 4]], x: [[unrolledXLabels, 9], [unrolledMinor, 4.5]]});
series.push({type: 'custom', xAxisIndex: gB0, yAxisIndex: gB0, silent: true, z: 3, clip: true, data: etaEdgesX.map(x => [x, 0]),
  renderItem(params, api) {
    const a = api.coord([api.value(0), 0]), b = api.coord([api.value(0), 200]);
    return {type: 'line', shape: {x1: a[0], y1: a[1], x2: b[0], y2: b[1]}, style: {stroke: '#000', lineWidth: 1.3, lineDash: [2, 3]}};
  }});
series.push({type: 'custom', xAxisIndex: gB0, yAxisIndex: gB0, silent: true, z: 12, clip: false,
  data: etaLabels.map((s, k) => [(k + 1) * nPt + 0.5 - 0.4, 151, k]),
  renderItem(params, api) {
    const c = api.coord([api.value(0), api.value(1)]);
    return {type: 'text', x: c[0], y: c[1], rotation: 20 * Math.PI / 180,
      style: {text: etaLabels[api.value(2)], textAlign: 'right', textVerticalAlign: 'middle', fontSize: 13.5, fontFamily: FONT, fill: '#111'}};
  }});
addBands(gB0, combVals.map((c, i) => { const u = combUncEta[Math.floor(i / nPt)]; return [binX[i] - 0.7, binX[i] + 0.7, c * (1 - u), c * (1 + u)]; }), {minH: 6, style: {fill: '#bdbdbd'}}, 4);
addPoints(gB0, combVals.map((c, i) => [binX[i], c * muRatio[i], c * (muRatio[i] - muErr[i]), c * (muRatio[i] + muErr[i]), 0]),
  {color: C_MU, vbar: true, vbarW: 1.5, marker: 'square', size: 1.8, z: 6});
addPoints(gB0, combVals.map((c, i) => [binX[i], c * elRatio[i], c * (elRatio[i] - elErr[i]), c * (elRatio[i] + elErr[i]), 0]),
  {color: C_EL, barColor: C_EL_BAR, vbar: true, vbarW: 1.5, marker: 'square', size: 2.1, z: 7});

const gB1 = addPanel(75, 819, 1028, 118,
  {min: 0.5, max: 324.5, label: {customValues: unrolledXLabels, fontSize: 17, margin: 4}},
  {min: 0.8, max: 1.2, interval: 0.1, label: {fontSize: 17, margin: 6, formatter: v => (+v).toFixed(1)}});
addFrame(gB1, {xRef: 1, yRef: 1, right: true, top: true,
  y: [[[0.8, 0.9, 1.0, 1.1, 1.2], 8], [ratioYMinor, 4]], x: [[unrolledXLabels, 9], [unrolledMinor, 4.5]]});
addBands(gB1, combVals.map((c, i) => { const u = combUncEta[Math.floor(i / nPt)]; return [binX[i] - 0.5, binX[i] + 0.5, 1 - u, 1 + u]; }), {style: {fill: '#c8c8c8'}}, 2);
[0.9, 1.1].forEach(v => addLine(gB1, [[0.5, v], [324.5, v]], '#000', 1.2, [2, 4], 3));
addPoints(gB1, muRatio.map((r, i) => [binX[i], r, r - muErr[i], r + muErr[i], 0]), {color: C_MU, vbar: true, vbarW: 2, marker: 'square', size: 1.8, z: 6});
addLine(gB1, [[0.5, 1], [324.5, 1]], '#000', 1.5, 'solid', 7);
addPoints(gB1, elRatio.map((r, i) => [binX[i], r, r - elErr[i], r + elErr[i], 0]), {color: C_EL, barColor: C_EL_BAR, vbar: true, vbarW: 1.6, marker: 'square', size: 2.2, z: 8});

gText(75, 632, 'CMS', {size: 19, weight: 'bold'});
gText(1105, 632, '35.9 fb{sup|-1} (13 TeV)', {size: 17, align: 'right'});
gText(22, 727, 'd{sup|2}σ / d|η|dp{sub|T} (pb/GeV)', {size: 17, rot: Math.PI / 2, align: 'center'});
gText(20, 880, 'Lep/comb.', {size: 16, rot: Math.PI / 2, align: 'center'});
gText(1105, 972, 'Unrolled dressed lepton p{sub|T} bin: p{sub|T} ∈ [26, 56] GeV', {size: 17, align: 'right'});
gRect(345, 645, 446, 26, '#fff', '#000', 1.5);
gRect(350, 651, 18, 15, '#c0c0c0'); gLine(350, 658.5, 368, 658.5, '#444', 1.2); gLine(359, 651, 359, 666, '#444', 1.2);
gText(372, 659, 'Combination', {size: 15});
gLine(493, 658.5, 511, 658.5, C_MU, 1.5); gLine(502, 650, 502, 667, C_MU, 1.5); gMarker('square', 502, 658.5, 1.8, C_MU);
gText(514, 659, 'Muon', {size: 15});
gLine(571, 658.5, 590, 658.5, C_EL_BAR, 1.5); gLine(580.5, 650, 580.5, 667, C_EL_BAR, 1.5); gMarker('square', 580.5, 658.5, 2.2, C_EL);
gText(595, 659, 'Electron', {size: 15});
gText(697, 659, 'W{sup|+} → l{sup|+} ν', {size: 15});

/* ============================ RENDER ============================ */
const chart = echarts.init(document.getElementById('chart'), null, {renderer: 'canvas'});
chart.setOption({animation: false, backgroundColor: '#fff', grid: grids, xAxis: xAxes, yAxis: yAxes, series: series, graphic: graphic});
</script>
</body>
</html>
